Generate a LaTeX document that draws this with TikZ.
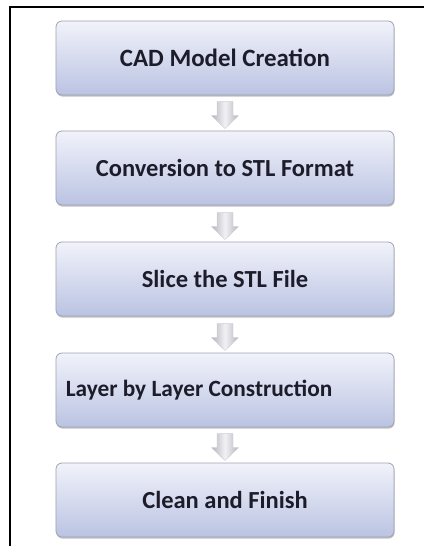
\documentclass[tikz,border=0pt]{standalone}
\usepackage{fontspec}
\setmainfont{Carlito}
\usetikzlibrary{shadows,calc}
\definecolor{boxtop}{HTML}{F1F2FA}
\definecolor{boxbot}{HTML}{BAC3E2}
\definecolor{boxline}{HTML}{9EA3B4}
\definecolor{labelink}{HTML}{1C1C2A}
\definecolor{arrowtop}{HTML}{F2F2F5}
\definecolor{arrowbot}{HTML}{B4B5BD}
\definecolor{arrowline}{HTML}{CDCED4}
\tikzset{
  labelfont/.style={font=\bfseries\fontsize{#1}{#1}\selectfont, text=labelink},
  stepbox/.style={draw=boxline, line width=0.8pt, rounded corners=6pt,
    top color=boxtop, bottom color=boxbot,
    minimum width=338bp, minimum height=74bp, inner sep=0pt,
    drop shadow={shadow xshift=0.6pt, shadow yshift=-1.6pt, opacity=0.35, fill=black!70},
    labelfont=24.6},
  steparrow/.style={draw=arrowline, line width=0.4pt, line join=round,
    left color=arrowbot, right color=arrowbot, middle color=arrowtop},
  frameline/.style={line width=1.3pt, black}
}
\begin{document}
\begin{tikzpicture}[x=1bp, y=-1bp]
  \useasboundingbox (0,0) rectangle (424,546);
  % page frame (top and left edges only)
  \coordinate (ftl) at (10,7);
  \coordinate (ftr) at (424,7);
  \coordinate (fbl) at (10,546);
  \draw[frameline] (ftr) -- (ftl) -- (fbl);

  % process steps
  \node[stepbox, labelfont=25] (s1) at (225,58)  {CAD Model Creation};
  \node[stepbox] (s2) at (225,168) {Conversion to STL Format};
  \node[stepbox] (s3) at (225,279) {Slice the STL File};
  \node[stepbox] (s4) at (225,390) {};
  \node[anchor=west, labelfont=23.4, inner sep=0pt]
    (s4t) at ($(s4.west)+(10,0)$) {Layer by Layer Construction};
  \node[stepbox] (s5) at (225,500) {Clean and Finish};

  % block arrows between consecutive steps: tip just above the next box
  \foreach \a/\b in {s1/s2, s2/s3, s3/s4, s4/s5}{
    \coordinate (tip-\a) at ($(\b.north)+(0,-2)$);
    \path[steparrow] (tip-\a)
      -- ++(13.5,-13) -- ++(-5.5,0) -- ++(0,-14) -- ++(-16,0)
      -- ++(0,14) -- ++(-5.5,0) -- cycle;
  }
\end{tikzpicture}
\end{document}
